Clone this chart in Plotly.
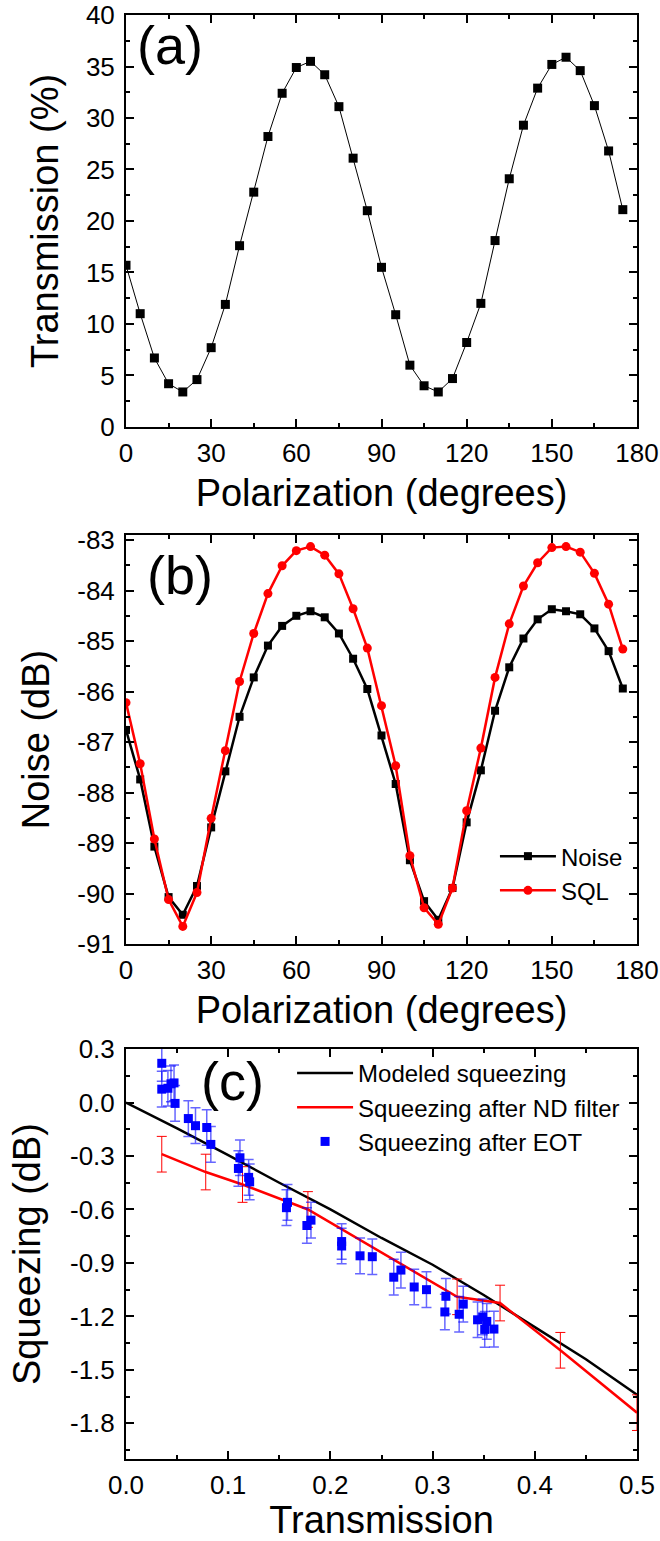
import plotly.graph_objects as go

# ---------------- data ----------------
pol_deg = [0, 5, 10, 15, 20, 25, 30, 35, 40, 45, 50, 55, 60, 65, 70, 75, 80, 85,
           90, 95, 100, 105, 110, 115, 120, 125, 130, 135, 140, 145, 150, 155, 160, 165, 170, 175]

transmission_pct = [15.7, 11.0, 6.7, 4.2, 3.4, 4.6, 7.7, 11.9, 17.6, 22.8, 28.2, 32.4, 34.9, 35.5,
                    34.2, 31.1, 26.1, 21.0, 15.5, 10.9, 6.0, 4.0, 3.4, 4.7, 8.2, 12.0, 18.1, 24.1,
                    29.3, 32.9, 35.2, 35.9, 34.6, 31.2, 26.8, 21.1]

noise_db = [-86.76, -87.74, -89.07, -90.07, -90.42, -89.85, -88.69, -87.58, -86.50, -85.72,
            -85.09, -84.70, -84.50, -84.41, -84.53, -84.85, -85.35, -85.95, -86.87, -87.83,
            -89.34, -90.15, -90.52, -89.89, -88.59, -87.56, -86.38, -85.52, -84.95, -84.57,
            -84.37, -84.41, -84.47, -84.75, -85.20, -85.94]

sql_db = [-86.22, -87.43, -88.92, -90.12, -90.65, -89.98, -88.51, -87.17, -85.80, -84.85,
          -84.06, -83.51, -83.21, -83.13, -83.30, -83.67, -84.36, -85.14, -86.28, -87.47,
          -89.25, -90.28, -90.61, -89.89, -88.36, -87.12, -85.72, -84.66, -83.91, -83.45,
          -83.15, -83.13, -83.24, -83.66, -84.27, -85.16]

model_T = [0.0, 0.05, 0.10, 0.15, 0.20, 0.25, 0.30, 0.35, 0.40, 0.45, 0.50]
model_sq = [0.0, -0.145, -0.295, -0.45, -0.60, -0.76, -0.91, -1.08, -1.26, -1.44, -1.64]

nd_T = [0.035, 0.078, 0.114, 0.178, 0.324, 0.366, 0.425, 0.50]
nd_sq = [-0.29, -0.39, -0.46, -0.60, -1.09, -1.125, -1.39, -1.74]
nd_err = [0.10, 0.10, 0.10, 0.10, 0.10, 0.10, 0.10, 0.10]

eot_T = [0.035, 0.035, 0.041, 0.044, 0.047, 0.048, 0.061, 0.068, 0.079, 0.083,
         0.1115, 0.110, 0.120, 0.121, 0.158, 0.157, 0.177, 0.181, 0.211, 0.211,
         0.229, 0.241, 0.262, 0.269, 0.282, 0.294, 0.313, 0.312, 0.326, 0.330,
         0.344, 0.349, 0.353, 0.351, 0.360]
eot_sq = [0.22, 0.075, 0.08, 0.105, 0.11, -0.005, -0.09, -0.13, -0.14, -0.235,
          -0.31, -0.37, -0.42, -0.445, -0.56, -0.59, -0.69, -0.66, -0.78, -0.805,
          -0.86, -0.865, -0.98, -0.94, -1.035, -1.05, -1.087, -1.175, -1.188, -1.131,
          -1.219, -1.203, -1.228, -1.273, -1.271]
eot_err = [0.10] * len(eot_T)

pol_tickvals = [0, 30, 60, 90, 120, 150, 180]
pol_ticktext = ["0", "30", "60", "90", "120", "150", "180"]
a_tickvals = [0, 5, 10, 15, 20, 25, 30, 35, 40]
a_ticktext = ["0", "5", "10", "15", "20", "25", "30", "35", "40"]
b_tickvals = [-91, -90, -89, -88, -87, -86, -85, -84, -83]
b_ticktext = ["-91", "-90", "-89", "-88", "-87", "-86", "-85", "-84", "-83"]
c_xtickvals = [0.0, 0.1, 0.2, 0.3, 0.4, 0.5]
c_xticktext = ["0.0", "0.1", "0.2", "0.3", "0.4", "0.5"]
c_ytickvals = [0.3, 0.0, -0.3, -0.6, -0.9, -1.2, -1.5, -1.8]
c_yticktext = ["0.3", "0.0", "-0.3", "-0.6", "-0.9", "-1.2", "-1.5", "-1.8"]

# ---------------- figure ----------------
FONT = "Liberation Sans, Arial, sans-serif"
fig = go.Figure()

fig.add_trace(go.Scatter(x=pol_deg, y=transmission_pct, mode="lines+markers",
                         line=dict(color="black", width=1),
                         marker=dict(symbol="square", size=9, color="black"),
                         xaxis="x", yaxis="y", showlegend=False, name="Transmission"))

fig.add_trace(go.Scatter(x=pol_deg, y=noise_db, mode="lines+markers", name="Noise",
                         line=dict(color="black", width=2.5),
                         marker=dict(symbol="square", size=8, color="black"),
                         xaxis="x2", yaxis="y2", legend="legend2"))
fig.add_trace(go.Scatter(x=pol_deg, y=sql_db, mode="lines+markers", name="SQL",
                         line=dict(color="#ff0000", width=2.5),
                         marker=dict(symbol="circle", size=9, color="#ff0000"),
                         xaxis="x2", yaxis="y2", legend="legend2"))

fig.add_trace(go.Scatter(x=model_T, y=model_sq, mode="lines", name="Modeled squeezing",
                         line=dict(color="black", width=2.5),
                         xaxis="x3", yaxis="y3", legend="legend3"))
fig.add_trace(go.Scatter(x=nd_T, y=nd_sq, mode="lines", name="Squeezing after ND filter",
                         line=dict(color="#ff0000", width=2.5),
                         error_y=dict(type="data", array=nd_err, color="#ff0000",
                                      thickness=1, width=5),
                         xaxis="x3", yaxis="y3", legend="legend3"))
fig.add_trace(go.Scatter(x=eot_T, y=eot_sq, mode="markers", name="Squeezing after EOT",
                         marker=dict(symbol="square", size=9, color="#0000ff"),
                         error_y=dict(type="data", array=eot_err, color="rgba(0,0,255,0.6)",
                                      thickness=1.5, width=5),
                         xaxis="x3", yaxis="y3", legend="legend3"))

tickfont = dict(family=FONT, size=26, color="black")
titlefont = dict(family=FONT, size=38, color="black")


def axis_common(**kw):
    d = dict(showline=True, linecolor="black", linewidth=2, mirror="allticks",
             ticks="inside", ticklen=8, tickwidth=1.5, tickcolor="black",
             showgrid=False, zeroline=False, tickfont=tickfont, automargin=False,
             tickmode="array")
    d.update(kw)
    return d


def minor(dt, t0):
    return dict(ticks="inside", ticklen=4, tickwidth=1.5, dtick=dt, tick0=t0, tickcolor="black")


dom_a = [0.7147, 1.0]
dom_b = [0.3566, 0.6399]
dom_c = [0.0, 0.2839]

fig.update_layout(
    xaxis=axis_common(domain=[0, 1], anchor="y", range=[0, 180],
                      tickvals=pol_tickvals, ticktext=pol_ticktext, minor=minor(15, 0),
                      ticklabelstandoff=2,
                      title=dict(text="Polarization (degrees)", font=titlefont, standoff=12)),
    yaxis=axis_common(domain=dom_a, anchor="x", range=[0, 40],
                      tickvals=a_tickvals, ticktext=a_ticktext, minor=minor(2.5, 0),
                      ticklabelstandoff=4,
                      title=dict(text="Transmission (%)", font=titlefont, standoff=16)),
    xaxis2=axis_common(domain=[0, 1], anchor="y2", range=[0, 180],
                       tickvals=pol_tickvals, ticktext=pol_ticktext, minor=minor(15, 0),
                       ticklabelstandoff=2,
                       title=dict(text="Polarization (degrees)", font=titlefont, standoff=12)),
    yaxis2=axis_common(domain=dom_b, anchor="x2", range=[-91, -82.9],
                       tickvals=b_tickvals, ticktext=b_ticktext, minor=minor(0.5, -91),
                       ticklabelstandoff=4,
                       title=dict(text="Noise (dB)", font=titlefont, standoff=16)),
    xaxis3=axis_common(domain=[0, 1], anchor="y3", range=[0, 0.5],
                       tickvals=c_xtickvals, ticktext=c_xticktext, minor=minor(0.05, 0),
                       ticklabelstandoff=2,
                       title=dict(text="Transmission", font=titlefont, standoff=10)),
    yaxis3=axis_common(domain=dom_c, anchor="x3", range=[-2.0, 0.3],
                       tickvals=c_ytickvals, ticktext=c_yticktext, minor=minor(0.15, 0),
                       ticklabelstandoff=4,
                       title=dict(text="Squeezing (dB)", font=titlefont, standoff=18)),
    legend2=dict(x=0.722, y=0.4328, xanchor="left", yanchor="top",
                 font=dict(family=FONT, size=24, color="black"),
                 bgcolor="rgba(0,0,0,0)", itemwidth=56, tracegroupgap=0),
    legend3=dict(x=0.325, y=0.2826, xanchor="left", yanchor="top",
                 font=dict(family=FONT, size=24, color="black"),
                 bgcolor="rgba(0,0,0,0)", itemwidth=56, tracegroupgap=0),
    width=660, height=1541,
    margin=dict(l=126, r=23, t=15, b=82),
    template="none",
    paper_bgcolor="white", plot_bgcolor="white",
    font=dict(family=FONT, color="black"),
)

labels = [("(a)", "x domain", "y domain", 0.086, 0.926),
          ("(b)", "x2 domain", "y2 domain", 0.106, 0.901),
          ("(c)", "x3 domain", "y3 domain", 0.208, 0.921)]
for txt, xr, yr, xx, yy in labels:
    fig.add_annotation(text=txt, xref=xr, yref=yr, x=xx, y=yy, xanchor="center", yanchor="middle",
                       showarrow=False, font=dict(family=FONT, size=54, color="black"))

fig.write_html("out.html", config={"displayModeBar": False},
               post_script="document.body.style.margin='0';document.body.style.overflow='hidden';")
